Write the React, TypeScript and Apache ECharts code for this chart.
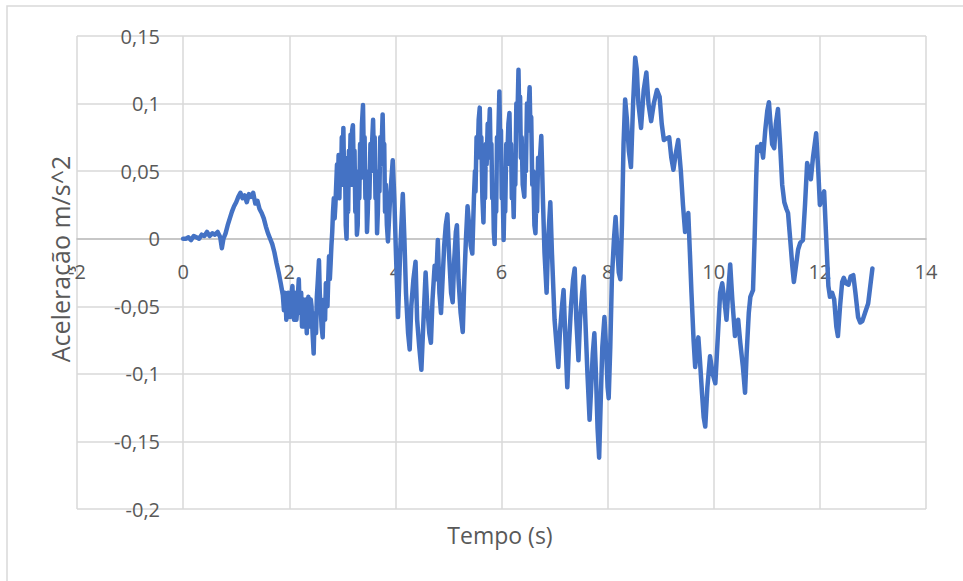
import React, { useEffect, useRef } from "react";
import * as echarts from "echarts";

// Time (s) and acceleration (m/s^2) samples
const quietStart: [number, number][] = [
  [0, 0], [0.05, 0], [0.1, 0.001], [0.15, -0.001], [0.2, 0.002], [0.25, 0.001], [0.3, 0.0],
  [0.35, 0.003], [0.4, 0.002], [0.45, 0.005], [0.5, 0.002], [0.55, 0.004], [0.6, 0.003],
  [0.65, 0.005], [0.7, 0.001], [0.73, -0.007], [0.76, 0.0], [0.8, 0.004], [0.84, 0.01],
  [0.88, 0.015], [0.92, 0.02], [0.96, 0.024], [1.0, 0.027], [1.04, 0.031], [1.08, 0.034],
  [1.12, 0.03], [1.16, 0.032], [1.2, 0.027], [1.24, 0.033], [1.28, 0.031], [1.32, 0.034],
  [1.36, 0.026], [1.4, 0.028], [1.44, 0.022], [1.48, 0.019], [1.52, 0.015], [1.56, 0.009],
  [1.6, 0.004], [1.64, 0.0], [1.68, -0.004], [1.72, -0.01], [1.76, -0.018], [1.8, -0.025],
  [1.84, -0.033], [1.88, -0.042],
];

const firstDip: [number, number][] = [
  [1.9, -0.053], [1.915, -0.04], [1.93, -0.045], [1.945, -0.06], [1.96, -0.05], [1.98, -0.04],
  [2.0, -0.043], [2.015, -0.058], [2.03, -0.055], [2.045, -0.04], [2.06, -0.035], [2.075, -0.055],
  [2.09, -0.06], [2.105, -0.04], [2.12, -0.045], [2.135, -0.06], [2.15, -0.052], [2.165, -0.04],
  [2.18, -0.03], [2.195, -0.05], [2.21, -0.055], [2.225, -0.04], [2.24, -0.065], [2.255, -0.05],
  [2.27, -0.045], [2.285, -0.065], [2.3, -0.06], [2.315, -0.045], [2.33, -0.07], [2.345, -0.05],
  [2.36, -0.043], [2.375, -0.065], [2.39, -0.062], [2.405, -0.045], [2.42, -0.05], [2.44, -0.07],
  [2.46, -0.085], [2.475, -0.06], [2.49, -0.055], [2.505, -0.07], [2.52, -0.043], [2.54, -0.03],
  [2.56, -0.016], [2.575, -0.04], [2.59, -0.05], [2.61, -0.065], [2.63, -0.073], [2.645, -0.05],
  [2.66, -0.045], [2.675, -0.06], [2.69, -0.033], [2.705, -0.045], [2.72, -0.05], [2.735, -0.03],
  [2.75, -0.013], [2.765, -0.03], [2.78, -0.018], [2.795, -0.005], [2.81, 0.005], [2.825, 0.02],
  [2.84, 0.03], [2.855, 0.015], [2.87, 0.025],
];

const firstBurst: [number, number][] = [
  [2.9, 0.055], [2.915, 0.035], [2.93, 0.062], [2.945, 0.03], [2.96, 0.06], [2.975, 0.04],
  [2.99, 0.075], [3.005, 0.05], [3.02, 0.082], [3.035, 0.04], [3.05, 0.06], [3.065, 0.01],
  [3.08, 0.0], [3.095, 0.04], [3.11, 0.02], [3.125, 0.065], [3.14, 0.05], [3.155, 0.077],
  [3.17, 0.04], [3.185, 0.08], [3.2, 0.084], [3.215, 0.05], [3.23, 0.065], [3.245, 0.02],
  [3.26, 0.04], [3.275, 0.003], [3.29, 0.01], [3.305, 0.05], [3.32, 0.03], [3.335, 0.07],
  [3.35, 0.045], [3.37, 0.085], [3.39, 0.099], [3.405, 0.06], [3.42, 0.075], [3.435, 0.03],
  [3.45, 0.05], [3.465, 0.005], [3.48, 0.02], [3.495, 0.045], [3.51, 0.03], [3.53, 0.07],
  [3.545, 0.05], [3.56, 0.07], [3.58, 0.088], [3.595, 0.06], [3.61, 0.075], [3.625, 0.03],
  [3.64, 0.045], [3.655, 0.004], [3.67, 0.02], [3.685, 0.05], [3.7, 0.035], [3.715, 0.075],
  [3.73, 0.055], [3.76, 0.092], [3.775, 0.06], [3.79, 0.07], [3.805, 0.02], [3.82, 0.04],
  [3.84, 0.01], [3.86, -0.002], [3.9, 0.03], [3.95, 0.058], [3.98, 0.03], [4.01, -0.01],
  [4.05, -0.058], [4.09, -0.01], [4.14, 0.033], [4.17, 0.0], [4.2, -0.04], [4.24, -0.07],
  [4.27, -0.082], [4.3, -0.05], [4.34, -0.03], [4.38, -0.017], [4.41, -0.06], [4.45, -0.08],
  [4.49, -0.097], [4.53, -0.06], [4.57, -0.025], [4.6, -0.05], [4.64, -0.07], [4.67, -0.077],
  [4.7, -0.045], [4.74, -0.02], [4.77, -0.03], [4.8, -0.001], [4.83, -0.04], [4.86, -0.055],
  [4.89, -0.03], [4.92, -0.005], [4.95, 0.01], [4.98, 0.018], [5.01, -0.01], [5.05, -0.04],
  [5.08, -0.047], [5.11, -0.015], [5.14, 0.005], [5.16, 0.01], [5.19, -0.03], [5.23, -0.055],
  [5.27, -0.069], [5.3, -0.03], [5.33, 0.0], [5.36, 0.024], [5.39, 0.01], [5.42, -0.005],
  [5.45, -0.011],
];

const secondBurst: [number, number][] = [
  [5.48, 0.03], [5.5, 0.05], [5.51, 0.035], [5.53, 0.075], [5.55, 0.06], [5.57, 0.088],
  [5.59, 0.097], [5.605, 0.06], [5.62, 0.075], [5.64, 0.03], [5.66, 0.012], [5.675, 0.045],
  [5.69, 0.03], [5.705, 0.07], [5.72, 0.055], [5.74, 0.085], [5.755, 0.07], [5.78, 0.096],
  [5.795, 0.06], [5.81, 0.07], [5.825, 0.03], [5.84, 0.04], [5.855, 0.005], [5.87, -0.004],
  [5.885, 0.03], [5.9, 0.02], [5.915, 0.075], [5.93, 0.06], [5.96, 0.109], [5.975, 0.07],
  [5.99, 0.08], [6.005, 0.03], [6.02, 0.04], [6.04, -0.001], [6.055, 0.03], [6.07, 0.02],
  [6.09, 0.07], [6.105, 0.055], [6.13, 0.085], [6.15, 0.093], [6.165, 0.06], [6.18, 0.07],
  [6.195, 0.03], [6.21, 0.045], [6.23, 0.016], [6.245, 0.05], [6.26, 0.04], [6.28, 0.1],
  [6.295, 0.08], [6.32, 0.125], [6.335, 0.09], [6.35, 0.105], [6.365, 0.06], [6.38, 0.075],
  [6.4, 0.04], [6.43, 0.031], [6.445, 0.06], [6.46, 0.05], [6.48, 0.1], [6.495, 0.085],
  [6.53, 0.112], [6.545, 0.08], [6.56, 0.09], [6.58, 0.04], [6.6, 0.05], [6.62, 0.01],
  [6.64, 0.004], [6.655, 0.03], [6.67, 0.02], [6.69, 0.06], [6.71, 0.05], [6.75, 0.076],
  [6.78, 0.03], [6.81, -0.01], [6.85, -0.04], [6.88, 0.0], [6.92, 0.027], [6.95, -0.01],
  [6.98, -0.04], [7.0, -0.06], [7.04, -0.08], [7.07, -0.095], [7.1, -0.07], [7.14, -0.05],
  [7.17, -0.038], [7.2, -0.07], [7.24, -0.11], [7.27, -0.08], [7.31, -0.05], [7.35, -0.03],
  [7.38, -0.022], [7.41, -0.06], [7.45, -0.09], [7.48, -0.06], [7.52, -0.04], [7.55, -0.028],
  [7.58, -0.06], [7.62, -0.1], [7.66, -0.134], [7.69, -0.11], [7.72, -0.085], [7.75, -0.07],
  [7.78, -0.1], [7.81, -0.14], [7.84, -0.162], [7.87, -0.12], [7.9, -0.08], [7.94, -0.058],
  [7.97, -0.08], [8.0, -0.11], [8.02, -0.118], [8.05, -0.08], [8.08, -0.03],
];

const smoothTail: [number, number][] = [
  [8.12, 0.0], [8.15, 0.016], [8.18, -0.005], [8.21, -0.025], [8.24, -0.03], [8.27, 0.01],
  [8.3, 0.07], [8.33, 0.103], [8.36, 0.09], [8.4, 0.065], [8.44, 0.053], [8.48, 0.1],
  [8.52, 0.134], [8.55, 0.125], [8.58, 0.1], [8.63, 0.082], [8.68, 0.11], [8.73, 0.123],
  [8.77, 0.1], [8.82, 0.087], [8.87, 0.1], [8.93, 0.11], [8.98, 0.105], [9.02, 0.085],
  [9.06, 0.073], [9.1, 0.074], [9.16, 0.075], [9.2, 0.06], [9.24, 0.051], [9.28, 0.062],
  [9.33, 0.073], [9.38, 0.05], [9.42, 0.025], [9.46, 0.005], [9.49, 0.012], [9.52, 0.019],
  [9.55, -0.01], [9.58, -0.04], [9.62, -0.075], [9.65, -0.095], [9.68, -0.082], [9.71, -0.073],
  [9.74, -0.09], [9.78, -0.115], [9.81, -0.132], [9.84, -0.139], [9.88, -0.11], [9.93, -0.087],
  [9.98, -0.1], [10.03, -0.107], [10.08, -0.07], [10.12, -0.04], [10.16, -0.033], [10.2, -0.045],
  [10.24, -0.06], [10.28, -0.035], [10.31, -0.019], [10.35, -0.045], [10.4, -0.072], [10.43, -0.062],
  [10.46, -0.06], [10.5, -0.077], [10.55, -0.095], [10.59, -0.114], [10.62, -0.085], [10.66, -0.055],
  [10.69, -0.043], [10.72, -0.04], [10.74, -0.038], [10.77, 0.0], [10.8, 0.045], [10.82, 0.068],
  [10.86, 0.065], [10.89, 0.07], [10.93, 0.06], [10.97, 0.08], [11.01, 0.095], [11.04, 0.101],
  [11.07, 0.085], [11.1, 0.07], [11.14, 0.067], [11.17, 0.085], [11.21, 0.096], [11.25, 0.07],
  [11.29, 0.04], [11.33, 0.027], [11.37, 0.022], [11.4, 0.019], [11.44, 0.0], [11.48, -0.02],
  [11.51, -0.032], [11.55, -0.02], [11.59, -0.008], [11.63, -0.003], [11.68, -0.001], [11.72, 0.025],
  [11.76, 0.056], [11.8, 0.05], [11.83, 0.044], [11.87, 0.06], [11.93, 0.078], [11.97, 0.05],
  [12.0, 0.025], [12.04, 0.03], [12.08, 0.035], [12.12, 0.0], [12.16, -0.035], [12.19, -0.043],
  [12.23, -0.04], [12.27, -0.045], [12.31, -0.065], [12.34, -0.072], [12.38, -0.05], [12.42, -0.032],
  [12.45, -0.029], [12.49, -0.033], [12.54, -0.034], [12.58, -0.028], [12.63, -0.027], [12.67, -0.04],
  [12.72, -0.058], [12.76, -0.062], [12.8, -0.061], [12.85, -0.055], [12.91, -0.048], [12.95, -0.035],
  [12.99, -0.022],
];

const xTicks = { min: -2, max: 14, interval: 2 };
const yTicks = { min: -0.2, max: 0.15, interval: 0.05 };
const xTitle = "Tempo (s)";
const yTitle = "Aceleração m/s^2";

const FONT = "'Open Sans', sans-serif";

export default function App() {
  const ref = useRef<HTMLDivElement>(null);
  useEffect(() => {
    if (!ref.current) return;
    const chart = echarts.init(ref.current, null, { renderer: "svg" });
    const data = [...quietStart, ...firstDip, ...firstBurst, ...secondBurst, ...smoothTail];
    const fmt = (v: number) => String(Number(v.toFixed(2))).replace(".", ",");
    chart.setOption({
      animation: false,
      backgroundColor: "#ffffff",
      grid: { left: 77, right: 37, top: 36, bottom: 72, containLabel: false },
      xAxis: {
        type: "value",
        min: xTicks.min,
        max: xTicks.max,
        interval: xTicks.interval,
        position: "bottom",
        offset: -270,
        axisLine: { show: true, onZero: false, lineStyle: { color: "#bfbfbf", width: 1.5 } },
        axisTick: { show: false },
        axisLabel: { color: "#595959", fontSize: 20, fontFamily: FONT, margin: 22, formatter: fmt },
        splitLine: { show: true, lineStyle: { color: "#d9d9d9", width: 1.5 } },
      },
      yAxis: {
        type: "value",
        min: yTicks.min,
        max: yTicks.max,
        interval: yTicks.interval,
        position: "left",
        offset: -105,
        axisLine: { show: false, onZero: false },
        axisTick: { show: false },
        axisLabel: { color: "#595959", fontSize: 20, fontFamily: FONT, margin: 22, formatter: fmt },
        splitLine: { show: true, lineStyle: { color: "#d9d9d9", width: 1.5 } },
      },
      graphic: [
        {
          type: "rect",
          shape: { x: 7, y: 6, width: 1000, height: 700 },
          style: { fill: "none", stroke: "#d9d9d9", lineWidth: 1.5 },
          silent: true,
        },
        {
          type: "text",
          x: 500,
          y: 535,
          style: {
            text: xTitle,
            fill: "#595959",
            font: `23px ${FONT}`,
            align: "center",
            verticalAlign: "middle",
          },
        },
        {
          type: "text",
          x: 60,
          y: 259,
          rotation: Math.PI / 2,
          style: {
            text: yTitle,
            fill: "#595959",
            font: `25px ${FONT}`,
            align: "center",
            verticalAlign: "middle",
          },
        },
      ],
      series: [
        {
          type: "line",
          data,
          showSymbol: false,
          symbol: "none",
          smooth: false,
          lineStyle: { color: "#4472c4", width: 4.5, cap: "round", join: "round" },
          z: 3,
        },
      ],
    });
    return () => chart.dispose();
  }, []);
  return (
    <div
      ref={ref}
      style={{ position: "fixed", left: 0, top: 0, width: 963, height: 581, background: "#fff" }}
    />
  );
}
